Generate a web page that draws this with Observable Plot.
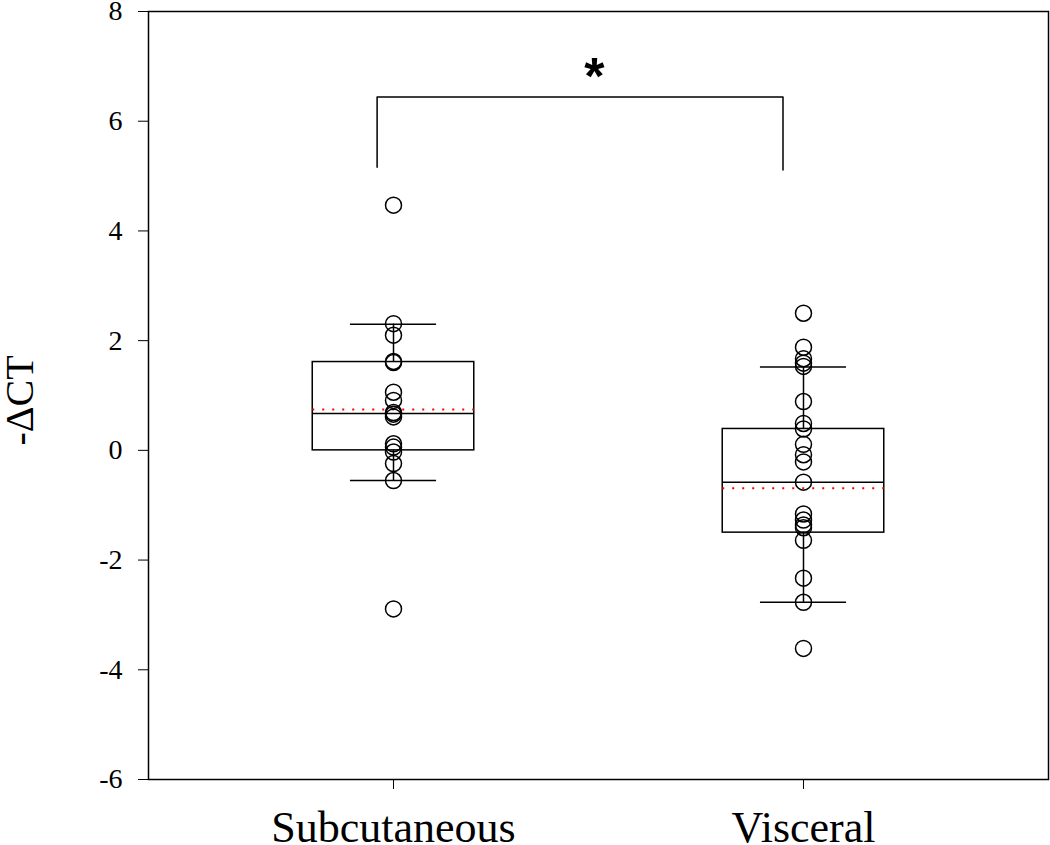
<!DOCTYPE html>
<html>
<head>
<meta charset="utf-8">
<script src="https://cdn.jsdelivr.net/npm/d3@7"></script>
<script src="https://cdn.jsdelivr.net/npm/@observablehq/plot@0.6"></script>
<style>
  html, body { margin: 0; padding: 0; background: white; }
  #chart { width: 1050px; height: 845px; }
</style>
</head>
<body>
<div id="chart"></div>
<script>
// Categories and raw points (-ΔCT)
const categories = ["Subcutaneous", "Visceral"];
const subcutaneous = [4.47, 2.31, 2.10, 1.62, 1.60, 1.06, 0.91, 0.69, 0.66, 0.61, 0.12, 0.06, -0.03, -0.24, -0.55, -2.89];
const visceral = [2.50, 1.88, 1.67, 1.59, 1.53, 0.89, 0.49, 0.39, 0.11, -0.08, -0.21, -0.58, -1.16, -1.27, -1.36, -1.41, -1.64, -2.33, -2.77, -3.61];

// Box plot statistics
const q1 = [0.00, -1.50];
const median = [0.67, -0.58];
const q3 = [1.61, 0.39];
const whiskerLow = [-0.55, -2.77];
const whiskerHigh = [2.30, 1.52];
const mean = [0.745, -0.69];

// Significance bracket
const bracketX = [-0.04, -0.04, 0.95, 0.95];
const bracketY = [5.16, 6.44, 6.44, 5.11];
const starLabel = "*";
const starX = 0.49;
const starY = 6.8;

const yTicks = [-6, -4, -2, 0, 2, 4, 6, 8];
const yLabel = "-ΔCT";

const groups = [subcutaneous, visceral];
const rows = groups.flatMap((vals, i) => vals.map(v => ({x: i, v})));
const stats = categories.map((c, i) => ({
  x: i, q1: q1[i], median: median[i], q3: q3[i],
  lo: whiskerLow[i], hi: whiskerHigh[i], mean: mean[i]
}));
const bracket = bracketX.map((x, i) => ({x, y: bracketY[i]}));

const BOX = 0.197, CAP = 0.105;

const chart = Plot.plot({
  width: 1050,
  height: 845,
  marginTop: 11,
  marginBottom: 66,
  marginLeft: 148,
  marginRight: 2,
  style: {fontFamily: "Liberation Serif", background: "white", color: "black"},
  x: {type: "linear", domain: [-0.5976, 1.5976]},
  y: {domain: [-6, 8]},
  marks: [
    Plot.frame({stroke: "black", strokeWidth: 1.5}),
    Plot.axisY({ticks: yTicks, tickSize: 10, tickPadding: 16, fontSize: 28, tickFormat: d => String(d), label: null}),
    Plot.axisX({ticks: [0, 1], tickFormat: i => categories[i], tickSize: 10, tickPadding: 21, fontSize: 44, label: null}),
    Plot.rect(stats, {x1: d => d.x - BOX, x2: d => d.x + BOX, y1: "q1", y2: "q3", stroke: "black", fill: "none", strokeWidth: 1.5}),
    Plot.ruleX(stats, {x: "x", y1: "q3", y2: "hi", stroke: "black", strokeWidth: 1.5}),
    Plot.ruleX(stats, {x: "x", y1: "q1", y2: "lo", stroke: "black", strokeWidth: 1.5}),
    Plot.ruleY(stats, {y: "hi", x1: d => d.x - CAP, x2: d => d.x + CAP, stroke: "black", strokeWidth: 1.5}),
    Plot.ruleY(stats, {y: "lo", x1: d => d.x - CAP, x2: d => d.x + CAP, stroke: "black", strokeWidth: 1.5}),
    Plot.ruleY(stats, {y: "median", x1: d => d.x - BOX, x2: d => d.x + BOX, stroke: "black", strokeWidth: 1.5}),
    Plot.ruleY(stats, {y: "mean", x1: d => d.x - BOX, x2: d => d.x + BOX, stroke: "red", strokeWidth: 2, strokeDasharray: "2,8"}),
    Plot.dot(rows, {x: "x", y: "v", r: 8, stroke: "black", strokeWidth: 1.5, fill: "none"}),
    Plot.line(bracket, {x: "x", y: "y", stroke: "black", strokeWidth: 1.5}),
    Plot.text([starLabel], {x: starX, y: starY, text: d => d, fontSize: 52, fontWeight: "bold", fontFamily: "Liberation Sans"}),
    Plot.text([yLabel], {frameAnchor: "left", textAnchor: "middle", dx: -128, dy: 5, rotate: -90, text: d => d, fontSize: 40})
  ]
});
document.getElementById("chart").appendChild(chart);
</script>
</body>
</html>
